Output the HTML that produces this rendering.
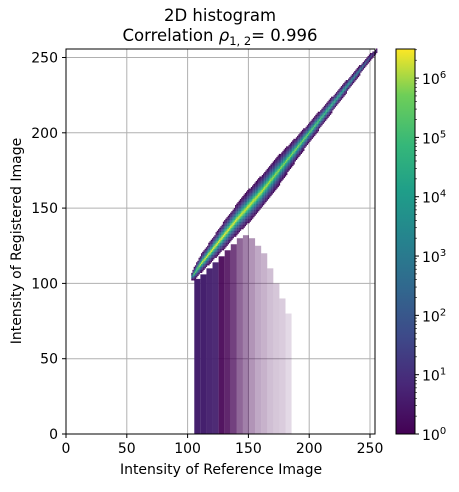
<!DOCTYPE html>
<html><head><meta charset="utf-8"><style>
body{margin:0;background:#fff;}
svg text{font-family:"DejaVu Sans","Liberation Sans",sans-serif;fill:#000;}
</style></head><body>
<svg id="chart" width="459" height="487" viewBox="0 0 459 487" xmlns="http://www.w3.org/2000/svg">
<text x="220" y="21" font-size="16.5" text-anchor="middle">2D histogram</text>
<text x="220" y="41" font-size="16.5" text-anchor="middle">Correlation <tspan font-style="italic">ρ</tspan><tspan font-size="11.5" dy="4">1, 2</tspan><tspan dy="-4">= 0.996</tspan></text>
<g id="grid"></g>
<g id="smear"></g>
<g id="cells"></g>
<rect x="66" y="49" width="309" height="385" fill="none" stroke="#000" stroke-width="1"/>
<g id="axes"></g>
<text x="221" y="474" font-size="14" text-anchor="middle">Intensity of Reference Image</text>
<text transform="translate(21,241) rotate(-90)" font-size="14" text-anchor="middle">Intensity of Registered Image</text>
<defs><linearGradient id="vir" x1="0" y1="1" x2="0" y2="0">
<stop offset="0" stop-color="#440154"/><stop offset="0.13" stop-color="#482878"/><stop offset="0.25" stop-color="#3e4989"/><stop offset="0.38" stop-color="#31688e"/><stop offset="0.5" stop-color="#26828e"/><stop offset="0.63" stop-color="#1f9e89"/><stop offset="0.75" stop-color="#35b779"/><stop offset="0.88" stop-color="#6ece58"/><stop offset="1" stop-color="#fde725"/></linearGradient></defs>
<rect x="396" y="49" width="19" height="385" fill="url(#vir)" stroke="#000" stroke-width="1"/>
<g id="cbaxis"></g>
</svg>
<script>
const NS="http://www.w3.org/2000/svg";
// ridge data (x knots, center y, vertical half-width, log10 peak count)
const ridgeX=[103,105,110,120,130,140,150,160,170,180,190,200,210,220,230,240,250,255];
const ridgeCenter=[104,106,112,122,132,142,151,160,170,180,190,200,210,220,230,240,250,254];
const ridgeHalf=[3,5,7,9,11,12,13,13,13,11,9,8,7,6,5,4,3,2];
const ridgePeak=[3,5,6,6.3,6.3,6.2,6.2,6,5.5,5.3,5.3,5,4.5,4,3.5,2.8,1.5,0.8];
// low smear region (x bins, top y, density)
const smearX=[108,113,118,123,128,133,138,143,148,153,158,163,168,173,178,183];
const smearTop=[103,106,110,114,118,122,126,130,132,130,125,120,110,100,90,80];
const smearDensity=[1,1,0.97,0.95,0.92,0.85,0.75,0.6,0.5,0.42,0.34,0.3,0.25,0.22,0.2,0.15];
const xTicks=[0,50,100,150,200,250];
const yTicks=[0,50,100,150,200,250];
const cbTicks=[0,1,2,3,4,5,6];
const cbMax=6.49;

const X=v=>66+v*1.216, Y=v=>434-v*1.506;
const cbY=l=>434-l*(385/cbMax);
const vir=["#440154","#482878","#3e4989","#31688e","#26828e","#1f9e89","#35b779","#6ece58","#b5de2b","#fde725"];
function hex(h){return [1,3,5].map(i=>parseInt(h.substr(i,2),16));}
function color(t){t=Math.max(0,Math.min(1,t));const p=t*(vir.length-1),i=Math.min(Math.floor(p),vir.length-2),f=p-i;const a=hex(vir[i]),b=hex(vir[i+1]);return `rgb(${a.map((c,k)=>Math.round(c+(b[k]-c)*f)).join(",")})`;}
function mk(tag,attrs,parent){const e=document.createElementNS(NS,tag);for(const k in attrs)e.setAttribute(k,attrs[k]);parent.appendChild(e);return e;}
function interp(arr,x){for(let i=0;i<ridgeX.length-1;i++){if(x>=ridgeX[i]&&x<=ridgeX[i+1]){const f=(x-ridgeX[i])/(ridgeX[i+1]-ridgeX[i]);return arr[i]+(arr[i+1]-arr[i])*f;}}return null;}

const grid=document.getElementById('grid'),axes=document.getElementById('axes');
xTicks.forEach(v=>{
 const g=mk('line',{x1:X(v),x2:X(v),y1:49,y2:434,stroke:'#b0b0b0','stroke-width':1},grid);
 
 const t=mk('line',{x1:X(v),x2:X(v),y1:434,y2:438,stroke:'#000'},axes);
 
 const l=mk('text',{x:X(v),y:453,'font-size':14,'text-anchor':'middle'},axes);l.textContent=v;
 
});
yTicks.forEach(v=>{
 const g=mk('line',{x1:66,x2:375,y1:Y(v),y2:Y(v),stroke:'#b0b0b0','stroke-width':1},grid);
 
 const t=mk('line',{x1:62,x2:66,y1:Y(v),y2:Y(v),stroke:'#000'},axes);
 
 const l=mk('text',{x:58,y:Y(v)+5,'font-size':14,'text-anchor':'end'},axes);l.textContent=v;
 
});

// smear
const smear=document.getElementById('smear');
smearX.forEach((x,i)=>{
 const r=mk('rect',{x:X(x-2.5),y:Y(smearTop[i]),width:5*1.216,height:Y(0)-Y(smearTop[i]),fill:i<4?'#45206e':'#440154','fill-opacity':smearDensity[i]},smear);
 
});

// ridge
const cells=document.getElementById('cells');
for(let x=ridgeX[0];x<=ridgeX[ridgeX.length-1];x++){
 const c=interp(ridgeCenter,x),hw=interp(ridgeHalf,x),pk=interp(ridgePeak,x);
 for(let y=Math.floor(c-hw);y<=Math.ceil(c+hw);y++){
  const d=Math.abs(y-c)/hw; if(d>1)continue;
  const l=pk*Math.pow(1-d,2.2);
  if(l<0.1)continue;
  const r=mk('rect',{x:X(x),y:Y(y+1),width:1.3,height:1.6,fill:color(l/cbMax)},cells);
  
 }
}

// colorbar ticks
const cb=document.getElementById('cbaxis');
cbTicks.forEach(l=>{
 const t=mk('line',{x1:415,x2:419,y1:cbY(l),y2:cbY(l),stroke:'#000'},cb);
 
 const tx=mk('text',{x:422,y:cbY(l)+6,'font-size':14},cb);
 tx.innerHTML='10<tspan font-size="10" dy="-6">'+l+'</tspan>';
 
 for(let m=2;m<10;m++){const ml=l+Math.log10(m);if(ml>cbMax)break;
  const mt=mk('line',{x1:415,x2:417,y1:cbY(ml),y2:cbY(ml),stroke:'#000','stroke-width':0.6},cb);
  }
});
</script>
</body></html>
